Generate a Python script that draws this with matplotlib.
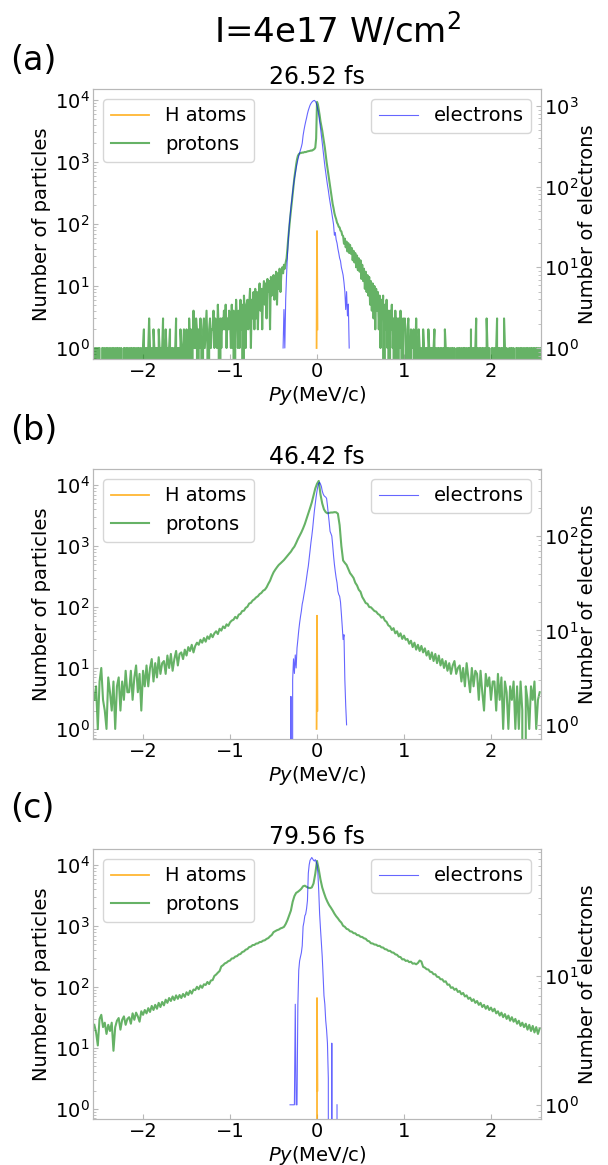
import numpy as np
import matplotlib
matplotlib.use('Agg')
import matplotlib.pyplot as plt

#########################################################################
# DATA

# proton histogram bin centres, Py in MeV/c
py_protons_a = np.round(np.linspace(-2.6, 2.6, 521), 2)   # finer bins for (a)
py_protons = np.round(np.linspace(-2.56, 2.56, 257), 2)   # (b) and (c)

protons_a = [
    1, 0, 1, 1, 0, 1, 0, 1, 0, 1,
    1, 0, 0, 1, 1, 0, 1, 0, 1, 1,
    0, 1, 0, 1, 0, 1, 1, 0, 1, 0,
    1, 1, 0, 1, 0, 1, 0, 0, 1, 1,
    0, 1, 1, 0, 1, 0, 1, 1, 0, 1,
    1, 0, 1, 0, 1, 1, 0, 1, 0, 1,
    1, 2, 0, 1, 1, 0, 1, 3, 1, 0,
    1, 0, 2, 1, 0, 1, 1, 0, 2, 1,
    0, 1, 1, 3, 0, 1, 2, 1, 0, 1,
    1, 2, 0, 1, 1, 0, 1, 1, 3, 0,
    1, 1, 0, 2, 1, 0, 1, 2, 1, 0,
    2, 1, 0, 3, 1, 2, 0, 1, 4, 1,
    1, 3, 2, 0, 2, 1, 3, 1, 0, 2,
    3, 1, 2, 4, 1, 0, 2, 3, 1, 2,
    2, 4, 1, 3, 2, 1, 5, 2, 0, 3,
    1, 3, 2, 4, 2, 5, 1, 3, 2, 4,
    3, 1, 5, 1, 4, 0, 2, 6, 3, 1,
    4, 1, 6, 2, 5, 0, 7, 4, 1, 5,
    6, 2, 5, 9, 1, 6, 3, 8, 2, 9,
    3, 8, 2, 7, 11, 4, 9, 2, 8, 12,
    5, 11, 3, 13, 8, 12, 2, 14, 7, 12,
    15, 6, 12, 17, 5, 16, 9, 19, 8, 16,
    20, 16, 22, 19, 24, 28, 40, 60, 85, 120,
    160, 220, 300, 420, 560, 720, 900, 1100, 1250, 1330,
    1370, 1390, 1400, 1420, 1410, 1430, 1450, 1440, 1460, 1480,
    1490, 1500, 1510, 1530, 1520, 1550, 1580, 1620, 1700, 2400,
    9300, 8500, 7000, 5700, 4500, 3800, 3200, 2600, 2100, 1700,
    1300, 1000, 800, 650, 520, 420, 330, 260, 210, 180,
    150, 132, 120, 105, 99, 90, 88, 78, 76, 66,
    64, 48, 58, 42, 52, 36, 49, 34, 46, 33,
    41, 26, 37, 24, 34, 20, 31, 18, 28, 17,
    26, 13, 22, 12, 19, 9, 17, 8, 15, 7,
    14, 5, 12, 4, 11, 3, 10, 2, 9, 4,
    8, 2, 7, 1, 6, 3, 7, 0, 5, 2,
    6, 1, 4, 0, 4, 2, 5, 1, 3, 0,
    4, 1, 3, 0, 3, 1, 4, 2, 0, 3,
    2, 3, 1, 0, 2, 3, 1, 0, 2, 1,
    1, 2, 0, 1, 3, 1, 0, 2, 1, 0,
    1, 0, 2, 1, 0, 1, 1, 0, 2, 1,
    0, 1, 1, 0, 1, 2, 0, 1, 0, 1,
    1, 0, 1, 1, 0, 1, 0, 2, 1, 0,
    1, 1, 0, 1, 0, 1, 1, 0, 1, 0,
    0, 1, 0, 1, 1, 0, 1, 0, 1, 1,
    1, 0, 1, 0, 1, 1, 0, 2, 0, 1,
    1, 0, 1, 3, 0, 1, 0, 1, 1, 0,
    1, 1, 0, 1, 0, 3, 1, 0, 1, 0,
    0, 1, 1, 0, 1, 0, 1, 3, 0, 1,
    1, 0, 1, 1, 0, 3, 1, 0, 1, 0,
    0, 1, 0, 1, 1, 0, 1, 0, 0, 1,
    1, 0, 1, 0, 1, 1, 0, 1, 0, 1,
    0, 1, 1, 0, 1, 0, 1, 1, 0, 1,
    1, 0, 1, 1, 0, 1, 0, 1, 0, 1,
    1]

protons_b = [
    3, 5, 1, 6, 10, 3, 2, 1, 7, 4,
    2, 6, 1, 5, 7, 2, 6, 3, 9, 4,
    4, 9, 3, 7, 11, 4, 8, 2, 9, 5,
    11, 5, 10, 14, 6, 12, 7, 15, 8, 12,
    13, 8, 16, 10, 17, 9, 14, 19, 11, 17,
    18, 14, 20, 16, 22, 19, 24, 18, 23, 26,
    24, 29, 26, 31, 27, 33, 30, 36, 32, 37,
    40, 36, 44, 41, 48, 45, 52, 49, 56, 60,
    62, 69, 65, 75, 77, 86, 87, 97, 101, 114,
    117, 128, 134, 144, 150, 163, 170, 185, 192, 210,
    240, 270, 320, 370, 410, 450, 490, 520, 555, 590,
    640, 690, 750, 810, 900, 980, 1120, 1300, 1480, 1680,
    1950, 2300, 2800, 3400, 4200, 5200, 6800, 8800, 10500, 11700,
    7000, 5000, 4000, 3600, 3450, 3500, 3550, 3550, 3600, 3580,
    3400, 2200, 1000, 580, 530, 490, 420, 360, 330, 300,
    250, 226, 192, 178, 146, 131, 116, 113, 100, 99,
    92, 86, 84, 77, 74, 67, 69, 60, 57, 50,
    48, 42, 45, 37, 40, 33, 37, 30, 34, 29,
    30, 25, 28, 22, 26, 20, 24, 19, 23, 18,
    21, 16, 19, 14, 18, 13, 17, 12, 16, 11,
    14, 10, 13, 9, 12, 8, 11, 13, 8, 10,
    11, 6, 10, 5, 12, 7, 4, 10, 5, 9,
    8, 3, 9, 4, 2, 8, 5, 7, 3, 6,
    6, 2, 8, 3, 7, 1, 6, 4, 1, 5,
    3, 6, 1, 5, 1, 6, 2, 0, 5, 3,
    1, 5, 3, 6, 1, 3, 4]

protons_c = [
    24, 18, 11, 30, 35, 22, 26, 17, 24, 19,
    26, 9, 22, 28, 31, 20, 29, 33, 24, 30,
    32, 25, 37, 29, 38, 33, 27, 40, 35, 42,
    37, 45, 39, 49, 42, 51, 44, 55, 47, 57,
    50, 62, 55, 66, 59, 70, 61, 73, 64, 74,
    66, 77, 69, 82, 74, 87, 78, 91, 89, 101,
    92, 106, 97, 111, 108, 121, 112, 128, 130, 152,
    160, 172, 183, 218, 228, 244, 251, 266, 272, 294,
    296, 316, 321, 342, 348, 375, 384, 410, 420, 452,
    460, 488, 490, 516, 520, 546, 550, 576, 585, 616,
    635, 680, 715, 795, 826, 856, 875, 915, 936, 970,
    1080, 1250, 1500, 1800, 2500, 3100, 3500, 3650, 3850, 4100,
    4500, 4600, 4400, 4250, 4200, 4300, 5000, 7200, 11700, 8500,
    5800, 4300, 3500, 2900, 2500, 2200, 2000, 1800, 1600, 1450,
    1340, 1220, 1140, 1010, 972, 900, 880, 820, 812, 765,
    760, 712, 708, 668, 662, 630, 618, 575, 562, 522,
    518, 498, 495, 472, 474, 448, 444, 418, 414, 392,
    392, 370, 366, 344, 338, 314, 310, 284, 286, 268,
    272, 256, 260, 242, 245, 236, 248, 272, 262, 214,
    208, 196, 194, 178, 176, 162, 162, 147, 146, 134,
    134, 122, 124, 109, 110, 97, 99, 90, 94, 83,
    86, 76, 80, 70, 73, 64, 67, 59, 63, 55,
    59, 51, 55, 47, 51, 44, 49, 42, 46, 40,
    44, 37, 40, 34, 38, 32, 36, 30, 34, 28,
    32, 27, 30, 25, 28, 23, 26, 22, 25, 20,
    24, 19, 23, 18, 22, 17, 21]

# electrons (right axis)
py_electrons_a = np.round(np.linspace(-0.39, 0.37, 77), 2)
electrons_a = [
    1, 3, 1, 4, 8, 14, 22, 32, 42, 55,
    68, 85, 105, 125, 145, 168, 192, 215, 240, 262,
    285, 310, 345, 430, 500, 570, 640, 710, 800, 880,
    950, 1020, 1070, 1110, 1140, 1160, 1170, 1140, 1090,
    1010, 890, 760, 640, 530, 430, 350, 280, 225, 180,
    150, 125, 105, 90, 75, 64, 55, 47, 40, 34,
    25, 27, 22, 20, 17, 15, 13, 12, 10, 9,
    8, 6.5, 5, 3, 5, 2.5, 3.5, 1]

py_electrons_b = np.round(np.linspace(-0.31, 0.34, 66), 2)
electrons_b = [
    0, 2, 0, 3, 5, 3.5, 5.5, 4, 6.5, 8,
    10, 12, 14, 16, 19, 21, 24, 27, 31, 36,
    42, 48, 58, 70, 85, 100, 120, 150, 185, 220,
    260,
    300, 335, 360, 370, 355, 335, 300, 280, 268, 262,
    258, 250, 210, 170, 140, 112, 106, 100, 80, 62,
    50, 42, 36, 32, 26, 24, 23, 20, 15, 11,
    8, 9, 3, 1.6, 1]

py_electrons_c = np.round(np.linspace(-0.31, 0.23, 55), 2)
electrons_c = [
    1, 1, 1, 1, 1, 1, 6, 1, 1, 6,
    11, 13, 14, 15, 17, 24, 26, 29, 30, 33,
    38, 62, 72, 78, 80, 82, 80, 78, 77, 79,
    76,
    72, 62, 45, 30, 23, 18, 14, 10, 7, 6,
    4.5, 3.8, 3, 1.6, 0, 0, 0, 3, 0, 0,
    0, 0, 0, 1]

# H atoms
py_h = [-0.005, 0.0, 0.005]
h_atoms_a = [1, 77, 2]
h_atoms_b = [1, 72, 2]
h_atoms_c = [0, 66, 2]

times = ['26.52 fs', '46.42 fs', '79.56 fs']
letters = ['(a)', '(b)', '(c)']

#########################################################################

fig = plt.figure(figsize=(6.08, 11.65), dpi=100)
SPINE = '0.72'

def draw_panel(bottom, letter, letter_y, title, p_py, p, e_py, e, h, ylog, ylog_e):
    ax = fig.add_axes([0.153, bottom, 0.7368, 0.2318])
    ax2 = ax.twinx()
    ax.plot(py_h, h, color='orange', alpha=0.8, lw=1.3, label='H atoms')
    ax.plot(p_py, p, color='green', alpha=0.6, lw=1.5, label='protons')
    ax2.plot(e_py, e, color='blue', alpha=0.6, lw=0.8, label='electrons')
    ax.set_yscale('log')
    ax2.set_yscale('log')
    ax.set_xlim(-2.575, 2.575)
    ax.set_ylim(10**ylog[0], 10**ylog[1])
    ax2.set_ylim(10**ylog_e[0], 10**ylog_e[1])
    ax.set_xticks([-2, -1, 0, 1, 2])
    for a in (ax, ax2):
        a.tick_params(which='both', direction='in', color=SPINE, labelsize=14, pad=2.5)
        for sp in a.spines.values():
            sp.set_color(SPINE)
    ax.set_ylabel('Number of particles', fontsize=14, labelpad=3)
    ax2.set_ylabel('Number of electrons', fontsize=14, labelpad=-1)
    ax.set_xlabel('$Py$(MeV/c)', fontsize=14, labelpad=2)
    ax.set_title(title, fontsize=17, pad=2)
    ax.legend(loc='upper left', fontsize=14)
    ax2.legend(loc='upper right', fontsize=14)
    fig.text(0.016, letter_y, letter, fontsize=24, va='center')
    return ax

draw_panel(0.69185, letters[0], 1 - 61/1165, times[0], py_protons_a, protons_a,
           py_electrons_a, electrons_a, h_atoms_a, (-0.177, 4.177), (-0.136, 3.21))
draw_panel(0.36567, letters[1], 1 - 430/1165, times[1], py_protons, protons_b,
           py_electrons_b, electrons_b, h_atoms_b, (-0.165, 4.265), (-0.15, 2.71))
draw_panel(0.03948, letters[2], 1 - 809/1165, times[2], py_protons, protons_c,
           py_electrons_c, electrons_c, h_atoms_c, (-0.165, 4.265), (-0.11, 1.98))

fig.text(0.556, 1 - 42/1165, 'I=4e17 W/cm$^2$', fontsize=24.5, ha='center', va='baseline')

plt.savefig('out.png', dpi=100)
